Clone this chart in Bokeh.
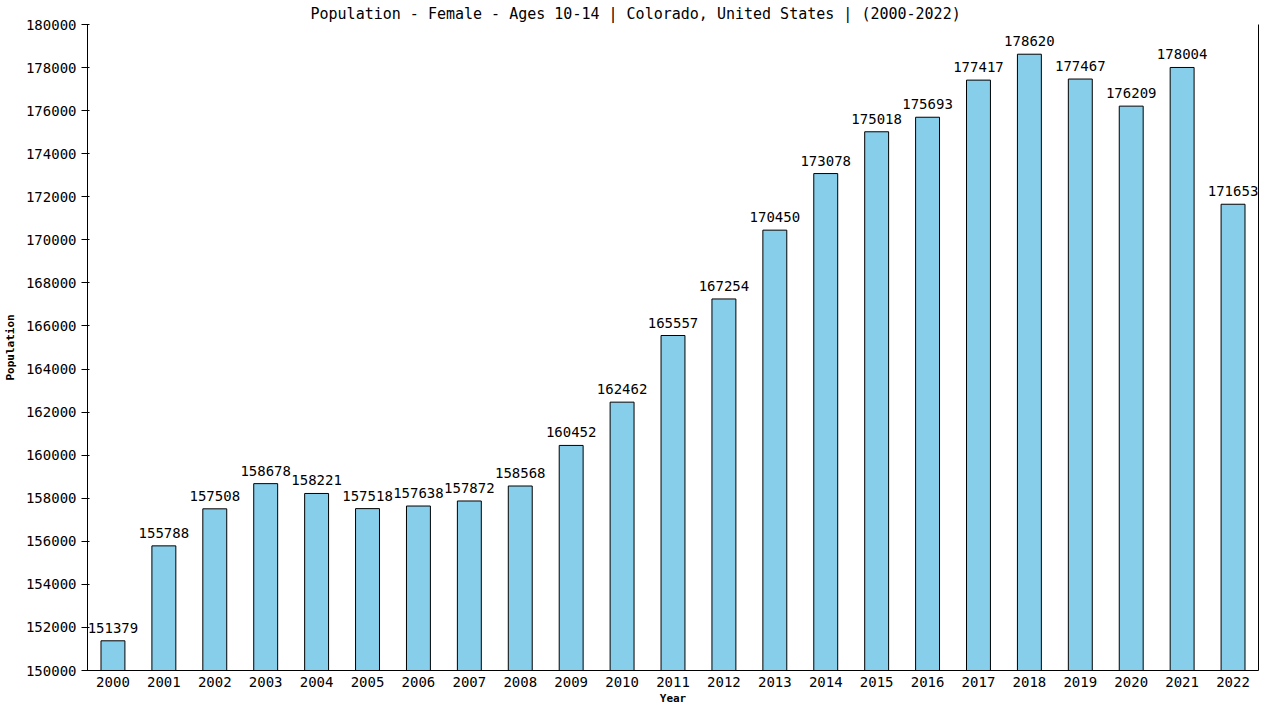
from bokeh.plotting import figure
from bokeh.models import (ColumnDataSource, LabelSet, LinearAxis, FactorRange, Range1d,
                          FixedTicker, BasicTickFormatter, Title)
from bokeh.core.properties import value
from bokeh.embed import file_html
from bokeh.resources import INLINE

years = [str(y) for y in range(2000, 2023)]
population = [151379, 155788, 157508, 158678, 158221, 157518, 157638, 157872, 158568,
              160452, 162462, 165557, 167254, 170450, 173078, 175018, 175693, 177417,
              178620, 177467, 176209, 178004, 171653]
y_ticks = list(range(150000, 180001, 2000))
title_text = "Population - Female - Ages 10-14 | Colorado, United States |  (2000-2022)"

FONT = "DejaVu Sans Mono"

src = ColumnDataSource(data=dict(year=years, pop=population, lbl=[str(v) for v in population]))

p = figure(width=1264, height=704, x_range=FactorRange(*years, range_padding=0),
           y_range=Range1d(150000, 180000), output_backend="svg", toolbar_location=None,
           min_border_left=80, min_border_right=6, min_border_top=0, min_border_bottom=0)

p.title.text = title_text
p.title.text_font = FONT
p.title.text_font_size = "15px"
p.title.text_font_style = "normal"
p.title.text_color = "black"
p.title.align = "left"
p.title.offset = 223
p.title.standoff = 4

p.vbar(x="year", top="pop", bottom=150000, width=0.47, source=src,
       fill_color="#87CEEB", line_color="black", line_width=1)

labels = LabelSet(x="year", y="pop", text="lbl", source=src, text_align="center",
                  text_baseline="bottom", y_offset=8, text_font=value(FONT),
                  text_font_size=value("14px"), text_color="black")
p.add_layout(labels)

p.xgrid.grid_line_color = None
p.ygrid.grid_line_color = None
p.outline_line_color = None

p.yaxis.ticker = FixedTicker(ticks=y_ticks)
p.yaxis.formatter = BasicTickFormatter(use_scientific=False)
p.yaxis.axis_label = "Population"
for ax in (p.xaxis, p.yaxis):
    ax.axis_label_text_font = FONT
    ax.axis_label_text_font_size = "11px"
    ax.axis_label_text_font_style = "bold"
    ax.axis_label_text_color = "black"
    ax.major_label_text_font = FONT
    ax.major_label_text_font_size = "14px"
    ax.major_label_text_color = "black"
    ax.axis_line_color = "black"
    ax.major_tick_line_color = "black"
    ax.minor_tick_line_color = None
p.yaxis.major_tick_out = 6
p.yaxis.major_tick_in = 2
p.yaxis.major_label_standoff = 5
p.yaxis.axis_label_standoff = 6
p.xaxis.major_tick_line_color = None
p.xaxis.major_tick_out = 0
p.xaxis.major_tick_in = 0
p.xaxis.major_label_standoff = 6

xlabel = Title(text="Year", align="center", text_font=FONT, text_font_size="11px",
               text_font_style="bold", text_color="black", standoff=0, offset=0)
p.add_layout(xlabel, "below")

right = LinearAxis(ticker=FixedTicker(ticks=[]), major_tick_line_color=None,
                   minor_tick_line_color=None, axis_line_color="black",
                   major_tick_out=0, major_tick_in=0, major_label_standoff=0)
p.add_layout(right, "right")

open("out.html", "w").write(file_html(p, INLINE))
